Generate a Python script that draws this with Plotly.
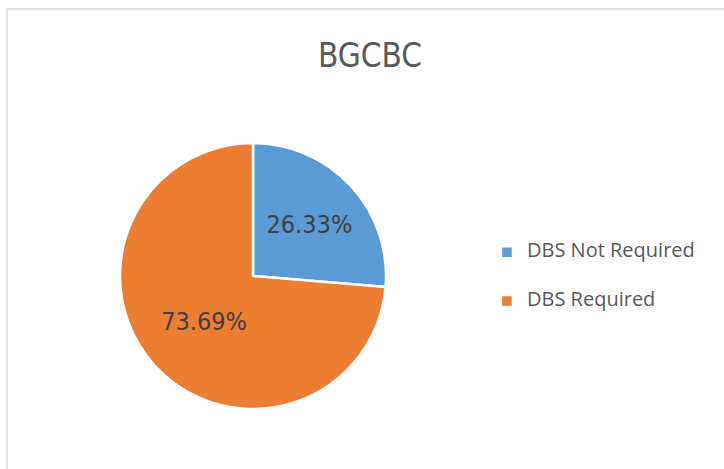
import plotly.graph_objects as go

# data
categories = ["DBS Not Required", "DBS Required"]
shares = [26.33, 73.69]
slice_colors = ["#5B9BD5", "#ED7D31"]

W, H = 724, 469

# legend entries: the label sits on the middle of three lines so the
# entries get the wide vertical spacing of the original
legend_labels = [
    f" <br><span style='font-size:20px'>{c}</span><br> " for c in categories
]

fig = go.Figure(
    go.Pie(
        labels=legend_labels,
        values=shares,
        sort=False,
        direction="clockwise",
        rotation=0,
        marker=dict(colors=slice_colors, line=dict(color="white", width=2.5)),
        texttemplate="%{value:.2f}%",
        textposition="inside",
        insidetextorientation="horizontal",
        textfont=dict(family="Liberation Sans Narrow, DejaVu Sans Condensed", size=25, color="#404040"),
        hoverinfo="skip",
        domain=dict(x=[120 / W, 386 / W], y=[1 - 409 / H, 1 - 143 / H]),
    )
)

fig.update_layout(
    width=W,
    height=H,
    margin=dict(l=0, r=0, t=0, b=0),
    paper_bgcolor="white",
    plot_bgcolor="white",
    title=dict(
        text="BGCBC",
        x=370 / W,
        xanchor="center",
        y=1 - 55 / H,
        yanchor="middle",
        font=dict(family="Liberation Sans Narrow, DejaVu Sans Condensed", size=33, color="#595959"),
    ),
    legend=dict(
        x=487 / W,
        xanchor="left",
        y=1 - 277 / H,
        yanchor="middle",
        font=dict(family="Open Sans, sans-serif", size=11.7, color="#595959"),
        bgcolor="rgba(0,0,0,0)",
    ),
    shapes=[
        dict(
            type="rect",
            xref="paper",
            yref="paper",
            x0=7 / W,
            x1=1.05,
            y0=-0.05,
            y1=1 - 9 / H,
            line=dict(color="#D9D9D9", width=1.5),
            layer="below",
        )
    ],
)

# drop the browser's default body margin so the figure sits at the page corner
fig.write_html(
    "out.html",
    config={"displayModeBar": False},
    post_script="document.body.style.margin='0';",
)
